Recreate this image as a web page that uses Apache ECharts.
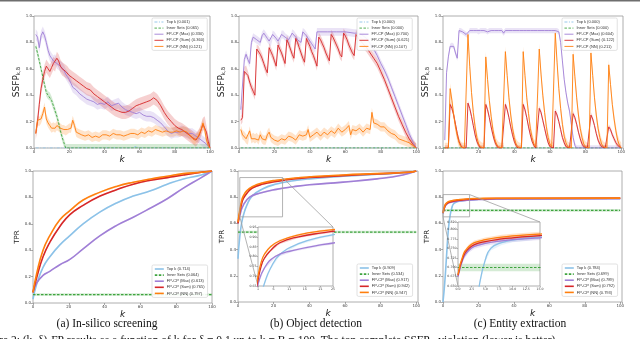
<!DOCTYPE html>
<html><head><meta charset="utf-8">
<script src="https://cdn.jsdelivr.net/npm/echarts@6/dist/echarts.min.js"></script>
<style>html,body{margin:0;padding:0;background:#fff}#c{width:640px;height:339px}</style>
</head><body><div id="c"></div>
<script>
// ---------- tick labels ----------
const mainXTicks = [0, 20, 40, 60, 80, 100];
const mainYTicks = [0, 0.2, 0.4, 0.6, 0.8, 1.0];

// ---------- legend labels ----------
const legendTopA = ['Top k (0.001)', 'Inner Sets (0.065)', 'FP-CP (Max) (0.330)', 'FP-CP (Sum) (0.360)', 'FP-CP (NN) (0.121)'];
const legendTopB = ['Top k (0.000)', 'Inner Sets (0.000)', 'FP-CP (Max) (0.700)', 'FP-CP (Sum) (0.621)', 'FP-CP (NN) (0.107)'];
const legendTopC = ['Top k (0.000) ', 'Inner Sets (0.000) ', 'FP-CP (Max) (0.604)', 'FP-CP (Sum) (0.122)', 'FP-CP (NN) (0.211)'];
const legendBotA = ['Top k (0.714)', 'Inner Sets (0.064)', 'FP-CP (Max) (0.613)', 'FP-CP (Sum) (0.765)', 'FP-CP (NN) (0.797)'];
const legendBotB = ['Top k (0.909)', 'Inner Sets (0.534)', 'FP-CP (Max) (0.917)', 'FP-CP (Sum) (0.942)', 'FP-CP (NN) (0.947)'];
const legendBotC = ['Top k (0.784)', 'Inner Sets (0.699)', 'FP-CP (Max) (0.789)', 'FP-CP (Sum) (0.792)', 'FP-CP (NN) (0.793)'];
const captions = ['(a) In-silico screening', '(b) Object detection', '(c) Entity extraction'];

// ---------- (a) top: SSFP, in-silico screening ----------
const topA_topk = [[1,0],[56,0],[58,0.012],[60,0],[100,0]];
const topA_inner = [[1,0.77],[2,0.72],[3,0.66],[4,0.60],[5,0.54],[6,0.48],[7,0.42],[8,0.40],[9,0.39],[10,0.36],[11,0.32],[12,0.28],[13,0.24],[14,0.19],[15,0.13],[16,0.08],[17,0.04],[18,0],[100,0]];
const topA_max = [[1,0.86],[2,0.84],[3,0.76],[4,0.85],[5,0.88],[6,0.85],[7,0.80],[8,0.74],[9,0.70],[10,0.68],[11,0.66],[12,0.67],[13,0.64],[14,0.63],[15,0.62],[16,0.61],[17,0.59],[18,0.56],[19,0.54],[20,0.52],[21,0.49],[22,0.46],[23,0.45],[24,0.44],[26,0.41],[28,0.39],[30,0.37],[32,0.36],[34,0.35],[36,0.33],[38,0.34],[40,0.33],[42,0.35],[44,0.32],[46,0.33],[48,0.34],[50,0.31],[52,0.29],[54,0.28],[56,0.27],[58,0.26],[60,0.27],[62,0.25],[64,0.24],[66,0.24],[68,0.23],[70,0.21],[72,0.19],[74,0.16],[76,0.13],[78,0.11],[80,0.12],[82,0.12],[84,0.13],[86,0.12],[88,0.11],[90,0.11],[92,0.09],[94,0.07],[96,0.05],[98,0.03],[100,0]];
const topA_sum = [[1,0.11],[2,0.20],[3,0.33],[4,0.45],[5,0.52],[6,0.58],[7,0.62],[8,0.60],[9,0.58],[10,0.61],[11,0.64],[12,0.63],[13,0.68],[14,0.66],[15,0.62],[16,0.60],[17,0.59],[18,0.58],[19,0.57],[20,0.55],[22,0.53],[24,0.51],[26,0.49],[28,0.47],[30,0.45],[32,0.44],[34,0.41],[36,0.39],[38,0.37],[40,0.35],[42,0.33],[44,0.31],[46,0.29],[48,0.28],[50,0.27],[52,0.27],[54,0.28],[56,0.30],[58,0.32],[60,0.33],[62,0.34],[64,0.35],[66,0.36],[68,0.38],[70,0.36],[72,0.32],[74,0.27],[76,0.23],[78,0.20],[80,0.17],[82,0.15],[84,0.14],[86,0.12],[88,0.10],[90,0.08],[92,0.06],[94,0.10],[96,0.18],[97,0.19],[98,0.12],[99,0.05],[100,0]];
const topA_nn = [[1,0.11],[2,0.21],[3,0.20],[4,0.22],[5,0.26],[6,0.31],[7,0.22],[8,0.19],[9,0.17],[10,0.15],[11,0.16],[12,0.15],[13,0.17],[14,0.16],[15,0.15],[16,0.14],[17,0.14],[18,0.13],[19,0.14],[20,0.15],[21,0.15],[22,0.21],[23,0.17],[24,0.12],[25,0.11],[27,0.10],[29,0.09],[31,0.10],[33,0.08],[35,0.09],[37,0.08],[39,0.10],[41,0.10],[43,0.09],[45,0.11],[47,0.10],[49,0.10],[51,0.09],[53,0.10],[55,0.11],[57,0.11],[59,0.10],[61,0.12],[63,0.11],[65,0.13],[67,0.12],[69,0.14],[71,0.13],[73,0.12],[75,0.13],[77,0.12],[79,0.12],[81,0.13],[83,0.12],[85,0.13],[87,0.12],[89,0.09],[91,0.06],[93,0.08],[95,0.14],[96,0.19],[97,0.14],[98,0.06],[99,0.02],[100,0]];

// ---------- (b) top: SSFP, object detection ----------
const topB_zero = [[1,0],[100,0]];
const topB_max = [[1,0.29],[2,0.28],[3,0.67],[4,0.71],[5,0.67],[6,0.64],[7,0.80],[8,0.84],[9,0.83],[10,0.82],[11,0.81],[12,0.80],[13,0.85],[14,0.87],[15,0.85],[16,0.83],[17,0.81],[18,0.80],[19,0.86],[20,0.85],[21,0.83],[22,0.81],[23,0.80],[24,0.86],[25,0.86],[26,0.84],[27,0.83],[28,0.82],[29,0.81],[30,0.87],[31,0.86],[32,0.84],[33,0.82],[34,0.81],[35,0.80],[36,0.88],[37,0.87],[38,0.85],[39,0.83],[40,0.81],[41,0.79],[42,0.77],[43,0.75],[44,0.88],[45,0.88],[50,0.88],[55,0.88],[60,0.88],[65,0.87],[68,0.87],[70,0.85],[72,0.83],[74,0.79],[76,0.75],[78,0.70],[80,0.64],[82,0.59],[84,0.53],[86,0.46],[88,0.39],[90,0.32],[92,0.25],[94,0.18],[96,0.11],[98,0.05],[100,0]];
const topB_sum = [[1,0.21],[2,0.23],[3,0.58],[4,0.59],[5,0.55],[6,0.50],[7,0.46],[8,0.43],[9,0.40],[10,0.75],[11,0.74],[12,0.71],[13,0.68],[14,0.64],[15,0.60],[16,0.57],[17,0.76],[18,0.73],[19,0.70],[20,0.66],[21,0.62],[22,0.78],[23,0.75],[24,0.72],[25,0.68],[26,0.64],[27,0.82],[28,0.79],[29,0.75],[30,0.71],[31,0.68],[32,0.83],[33,0.80],[34,0.76],[35,0.72],[36,0.68],[37,0.65],[38,0.83],[39,0.80],[40,0.77],[41,0.73],[42,0.70],[43,0.66],[44,0.62],[45,0.84],[46,0.82],[47,0.79],[48,0.76],[49,0.72],[50,0.69],[51,0.66],[52,0.86],[53,0.84],[54,0.81],[55,0.78],[56,0.75],[57,0.71],[58,0.69],[59,0.87],[60,0.85],[61,0.82],[62,0.78],[63,0.75],[64,0.72],[65,0.70],[66,0.86],[67,0.84],[68,0.82],[70,0.79],[72,0.76],[74,0.72],[76,0.68],[78,0.64],[80,0.58],[82,0.52],[84,0.45],[86,0.38],[88,0.31],[90,0.24],[92,0.18],[94,0.12],[96,0.07],[98,0.03],[100,0]];
const topB_nn = [[1,0.14],[2,0.10],[3,0.09],[4,0.07],[5,0.06],[6,0.13],[7,0.07],[8,0.08],[9,0.07],[10,0.08],[11,0.06],[12,0.10],[13,0.07],[14,0.06],[15,0.06],[16,0.10],[17,0.12],[18,0.08],[19,0.07],[20,0.06],[22,0.05],[24,0.07],[26,0.06],[28,0.09],[30,0.08],[32,0.06],[34,0.10],[36,0.09],[38,0.10],[39,0.14],[40,0.08],[42,0.10],[44,0.12],[46,0.09],[48,0.12],[50,0.10],[52,0.13],[54,0.11],[56,0.15],[58,0.12],[60,0.14],[62,0.17],[63,0.10],[64,0.14],[66,0.13],[68,0.15],[70,0.12],[72,0.15],[74,0.14],[75,0.27],[76,0.19],[78,0.18],[80,0.16],[82,0.16],[84,0.13],[86,0.11],[88,0.10],[90,0.07],[92,0.06],[94,0.05],[96,0.04],[98,0.02],[100,0]];

// ---------- (c) top: SSFP, entity extraction (values for k = 1..100) ----------
const topC_zero = [[0,0],[100,0]];
const topC_max = [0.06,0.57,0.69,0.77,0.78,0.77,0.72,0.68,0.89,0.89,0.88,0.87,0.86,0.85,0.89,0.89,0.89,0.89,0.89,0.88,0.89,0.89,0.89,0.89,0.88,0.89,0.89,0.89,0.89,0.89,0.89,0.89,0.89,0.87,0.89,0.89,0.89,0.89,0.89,0.89,0.89,0.89,0.89,0.89,0.89,0.89,0.89,0.89,0.89,0.89,0.89,0.89,0.89,0.89,0.89,0.89,0.89,0.89,0.89,0.89,0.89,0.89,0.89,0.89,0.88,0.80,0.66,0.52,0.42,0.34,0.28,0.18,0.08,0.02,0,0,0,0,0,0,0,0,0,0,0,0,0,0,0,0,0,0,0,0,0,0,0,0,0,0];
const topC_sum = [0,0,0,0.33,0.30,0.25,0.18,0.11,0.05,0.02,0,0,0,0.34,0.30,0.24,0.17,0.10,0.05,0.02,0,0,0,0.33,0.29,0.23,0.16,0.10,0.05,0.02,0,0,0,0,0.33,0.29,0.23,0.16,0.10,0.05,0.02,0,0,0,0.33,0.29,0.23,0.16,0.10,0.05,0.02,0,0,0.30,0.27,0.21,0.15,0.09,0.04,0.01,0,0,0.28,0.25,0.20,0.14,0.08,0.04,0.01,0,0,0,0.26,0.23,0.18,0.12,0.07,0.03,0.01,0,0,0,0.25,0.22,0.17,0.11,0.06,0.03,0.01,0,0,0,0.16,0.14,0.10,0.07,0.04,0.02,0.01,0];
const topC_nn = [0,0,0,0.45,0.36,0.25,0.16,0.09,0.04,0.01,0,0,0,0.86,0.62,0.42,0.27,0.16,0.08,0.03,0.01,0,0,0.69,0.52,0.36,0.24,0.14,0.07,0.03,0.01,0,0,0,0.73,0.55,0.38,0.25,0.15,0.08,0.03,0.01,0,0,0.73,0.55,0.38,0.26,0.15,0.08,0.03,0.01,0,0.75,0.56,0.40,0.27,0.16,0.08,0.03,0.01,0,0.87,0.65,0.45,0.30,0.18,0.09,0.04,0.01,0,0,0.71,0.54,0.38,0.25,0.15,0.08,0.03,0.01,0,0,0.72,0.55,0.38,0.25,0.15,0.08,0.03,0.01,0,0,0.63,0.48,0.33,0.22,0.13,0.06,0.02,0];

// ---------- (a) bottom: TPR ----------
const botA_topk = [[0,0.03],[2,0.14],[5.6,0.27],[9.4,0.35],[15,0.44],[20.6,0.51],[28,0.60],[37.5,0.69],[47,0.76],[56,0.81],[65.7,0.85],[75,0.90],[84,0.94],[94,0.97],[100,1.0]];
const botA_inner = [[0,0.064],[100,0.064]];
const botA_max = [[0,0.08],[2,0.15],[5.6,0.21],[9.4,0.24],[15,0.29],[20.6,0.33],[28,0.41],[37.5,0.51],[47,0.59],[56,0.65],[65.7,0.72],[75,0.79],[84,0.87],[94,0.95],[100,1.0]];
const botA_sum = [[0,0.08],[2,0.19],[5.6,0.35],[9.4,0.46],[15,0.58],[20.6,0.67],[28,0.74],[37.5,0.81],[47,0.86],[56,0.90],[65.7,0.93],[75,0.95],[84,0.97],[94,0.99],[100,1.0]];
const botA_nn = [[0,0.08],[2,0.22],[5.6,0.40],[9.4,0.51],[15,0.63],[20.6,0.70],[28,0.78],[37.5,0.84],[47,0.885],[56,0.915],[65.7,0.94],[75,0.96],[84,0.98],[94,0.99],[100,1.0]];

// ---------- (b) bottom: TPR ----------
const botB_topk = [[0,0.33],[1,0.50],[2,0.60],[3,0.66],[5,0.74],[8,0.81],[14,0.865],[21.5,0.90],[31,0.925],[40,0.94],[59,0.96],[78,0.975],[96,0.99],[100,1.0]];
const botB_inner = [[0,0.534],[100,0.534]];
const botB_max = [[0,0.60],[1,0.66],[3,0.74],[6.5,0.80],[12,0.83],[21.5,0.86],[31,0.88],[40,0.895],[59,0.915],[78,0.94],[92.5,0.97],[100,1.0]];
const botB_sum = [[0,0.60],[1,0.68],[2,0.75],[3,0.79],[5,0.83],[8,0.87],[14,0.90],[21.5,0.92],[31,0.94],[40,0.95],[59,0.965],[78,0.978],[96,0.99],[100,1.0]];
const botB_nn = [[0,0.61],[1,0.70],[2,0.77],[3,0.81],[5,0.85],[8,0.88],[14,0.91],[21.5,0.93],[31,0.945],[40,0.955],[59,0.97],[78,0.98],[96,0.99],[100,1.0]];

// ---------- (c) bottom: TPR ----------
const botC_topk = [[0,0],[1,0.15],[2,0.35],[3,0.55],[4,0.66],[5,0.72],[6,0.75],[8,0.765],[10,0.772],[15,0.78],[20,0.784],[30,0.787],[100,0.79]];
const botC_inner = [[0,0.699],[100,0.699]];
const botC_max = [[0,0.675],[1,0.725],[2,0.745],[3,0.755],[5,0.763],[8,0.77],[10,0.773],[15,0.778],[20,0.782],[30,0.786],[100,0.789]];
const botC_sum = [[0,0.678],[1,0.73],[2,0.75],[3,0.76],[5,0.768],[8,0.775],[10,0.778],[15,0.784],[20,0.787],[30,0.79],[100,0.792]];
const botC_nn = [[0,0.68],[1,0.735],[2,0.755],[3,0.765],[5,0.773],[8,0.78],[10,0.783],[15,0.788],[20,0.79],[30,0.792],[100,0.793]];

// ---------- insets ----------
const insetB_x = [1, 25, 5];     // min, max, interval
const insetB_y = [0.65, 0.95, 0.05];
const insetC_x = [0, 15, 2.5];
const insetC_y = [0.65, 0.82, 0.025];

// ---------- styles ----------
const C = {topk:'#8cc2e8', inner:'#3fa43f', max:'#a07fd6', sum:'#d62728', nn:'#ff7f0e'};
const grids = [
  {left:34, top:16, width:176, height:132},
  {left:239, top:16, width:179, height:132},
  {left:443, top:16, width:180, height:132},
  {left:33, top:171, width:179, height:132},
  {left:238, top:171, width:180, height:131},
  {left:443, top:171, width:179, height:131},
  {left:258, top:227, width:75, height:59},
  {left:458, top:222, width:82, height:64}
];
grids.forEach(g => { g.show = true; g.borderColor = '#9a9a9a'; g.borderWidth = 0.8; g.backgroundColor = '#fff'; });
grids[6].zlevel = 1; grids[7].zlevel = 1;

const tick = {show:true, length:2, lineStyle:{color:'#777', width:0.6}};
const lab = {fontSize:4, color:'#444', fontFamily:'DejaVu Sans'};
const xAxes = [], yAxes = [];
for (let i = 0; i < 6; i++) {
  const top = i < 3;
  xAxes.push({gridIndex:i, type:'value', min:0, max: i===0||i===3 ? 100 : 101, interval:20,
    axisLine:{show:false}, axisTick:tick, splitLine:{show:false},
    axisLabel:Object.assign({margin:2, showMaxLabel:true, formatter:v => mainXTicks.indexOf(v) >= 0 ? String(v) : ''}, lab),
    name:'k', nameLocation:'middle', nameGap:7,
    nameTextStyle:{fontStyle:'italic', fontSize:9, color:'#222', fontFamily:'DejaVu Sans'}});
  yAxes.push({gridIndex:i, type:'value', min:0, max:1, interval:0.2,
    axisLine:{show:false}, axisTick:tick, splitLine:{show:false},
    axisLabel:Object.assign({margin:2, formatter:v => v.toFixed(1)}, lab),
    name: top ? '{a|SSFP}{b|k,δ}' : 'TPR', nameLocation:'middle', nameGap:9,
    nameTextStyle: top ? {rich:{a:{fontSize:9, color:'#222', fontFamily:'DejaVu Sans'}, b:{fontSize:5.5, color:'#222', fontFamily:'DejaVu Sans', verticalAlign:'bottom', padding:[4,0,0,0]}}} : {fontSize:7, color:'#222', fontFamily:'DejaVu Sans'}});
}
const insetSpecs = [[6, insetB_x, insetB_y, v => v.toFixed(2), v => String(v)], [7, insetC_x, insetC_y, v => v.toFixed(3), v => v.toFixed(1)]];
insetSpecs.forEach(([gi, xs, ys, fy, fx]) => {
  xAxes.push({gridIndex:gi, zlevel:1, type:'value', min:xs[0], max:xs[1], interval:xs[2],
    axisLine:{show:false}, axisTick:{show:true, length:1.5, lineStyle:{color:'#777', width:0.5}}, splitLine:{show:false},
    axisLabel:Object.assign({margin:1.5, formatter:fx}, lab, {fontSize:3.2})});
  yAxes.push({gridIndex:gi, zlevel:1, type:'value', min:ys[0], max:ys[1], interval:ys[2],
    axisLine:{show:false}, axisTick:{show:true, length:1.5, lineStyle:{color:'#777', width:0.5}}, splitLine:{show:false},
    axisLabel:Object.assign({margin:1.5, formatter:fy}, lab, {fontSize:3.2})});
});

const series = [];
function rgba(hex, a) { const n = parseInt(hex.slice(1), 16); return `rgba(${n>>16},${(n>>8)&255},${n&255},${a})`; }
function addBand(gi, data, half, color, zl) {
  const lo = data.map(p => [p[0], Math.max(0, p[1] - half)]);
  const hi = data.map(p => [p[0], p[1] + half]);
  series.push({type:'custom', xAxisIndex:gi, yAxisIndex:gi, zlevel:zl, z:1, silent:true, clip:true,
    data:data, encode:{x:0, y:1},
    renderItem:(params, api) => {
      if (params.dataIndex !== 0) return null;
      const pts = hi.map(p => api.coord(p)).concat(lo.slice().reverse().map(p => api.coord(p)));
      return {type:'polygon', shape:{points:pts}, style:{fill:rgba(color, 0.22)}};
    }});
}
function addLine(gi, name, data, color, w, dash, zl, smooth, half) {
  if (half) addBand(gi, data, half, color, zl);
  series.push({type:'line', name:name, xAxisIndex:gi, yAxisIndex:gi, data:data, symbol:'none', smooth:smooth, zlevel:zl, z:3,
    lineStyle:{color:color, width:w, type:dash || 'solid'}, itemStyle:{color:color}});
}
const idx = arr => arr.map((v, i) => [i + 1, v]);

// top a
addLine(0, legendTopA[0], topA_topk, C.topk, 0.9, [3,1.5,1,1.5], 0, false);
addLine(0, legendTopA[1], topA_inner, C.inner, 0.9, [2.5,1.5], 0, false, 0.03);
addLine(0, legendTopA[2], topA_max, C.max, 0.9, null, 0, false, 0.04);
addLine(0, legendTopA[3], topA_sum, C.sum, 0.9, null, 0, false, 0.05);
addLine(0, legendTopA[4], topA_nn, C.nn, 0.9, null, 0, false, 0.035);
// top b
addLine(1, legendTopB[0], topB_zero, C.topk, 0.9, [3,1.5,1,1.5], 0, false);
addLine(1, legendTopB[1], topB_zero, C.inner, 0.9, [2.5,1.5], 0, false);
addLine(1, legendTopB[2], topB_max, C.max, 0.9, null, 0, false, 0.03);
addLine(1, legendTopB[3], topB_sum, C.sum, 0.9, null, 0, false, 0.035);
addLine(1, legendTopB[4], topB_nn, C.nn, 0.9, null, 0, false, 0.035);
// top c
addLine(2, legendTopC[0], topC_zero, C.topk, 0.9, [3,1.5,1,1.5], 0, false);
addLine(2, legendTopC[1], topC_zero, C.inner, 0.9, [2.5,1.5], 0, false);
addLine(2, legendTopC[2], idx(topC_max), C.max, 0.9, null, 0, false, 0.02);
addLine(2, legendTopC[3], idx(topC_sum), C.sum, 0.9, null, 0, false, 0.02);
addLine(2, legendTopC[4], idx(topC_nn), C.nn, 0.9, null, 0, false, 0.04);
// bottom rows (main + insets)
const bots = [
  [3, legendBotA, botA_topk, botA_inner, botA_max, botA_sum, botA_nn],
  [4, legendBotB, botB_topk, botB_inner, botB_max, botB_sum, botB_nn],
  [5, legendBotC, botC_topk, botC_inner, botC_max, botC_sum, botC_nn]
];
bots.forEach(([gi, lg, tk, inn, mx, sm, nn]) => {
  const targets = [[gi, 0, 1.6]];
  if (gi === 4) targets.push([6, 1, 1.3]);
  if (gi === 5) targets.push([7, 1, 1.3]);
  targets.forEach(([g, zl, w], j) => {
    const nm = n => j === 0 ? n : n + ' ';
    addLine(g, nm(lg[0]), tk, C.topk, w, null, zl, true, 0.006);
    addLine(g, nm(lg[1]), inn, C.inner, w * 0.8, [2.5,1.5], zl, false, 0.01);
    addLine(g, nm(lg[2]), mx, C.max, w, null, zl, true, 0.006);
    addLine(g, nm(lg[3]), sm, C.sum, w, null, zl, true, 0.006);
    addLine(g, nm(lg[4]), nn, C.nn, w, null, zl, true, 0.006);
  });
});

const legendPos = [[152,18],[357,18],[562,18],[152,265],[357,264],[562,264]];
const legendData = [legendTopA, legendTopB, legendTopC, legendBotA, legendBotB, legendBotC];
const legends = legendData.map((d, i) => ({
  data:d, orient:'vertical', left:legendPos[i][0], top:legendPos[i][1], itemWidth:9, itemHeight:4.5, itemGap:2.1,
  padding:[2,3,2,2], backgroundColor:'rgba(255,255,255,0.9)', borderColor:'#cfcfcf', borderWidth:0.6, borderRadius:1.5,
  textStyle:{fontSize:4, color:'#333', fontFamily:'Liberation Sans', padding:[0,0,0,-2]}, selectedMode:false,
  itemStyle:{opacity:0, borderWidth:0},
  lineStyle:{width: i < 3 ? 0.9 : 1.6}, zlevel:1
}));

const capX = [107, 316, 520];
const graphic = [{type:'rect', shape:{x:0, y:0, width:640, height:1.6}, style:{fill:'#6e6e6e'}, silent:true}];
captions.forEach((t, i) => graphic.push({type:'text', x:capX[i], y:324, style:{text:t, font:'11.5px "Liberation Serif"', fill:'#111', textAlign:'center', textVerticalAlign:'middle'}}));
graphic.push({type:'text', x:-22, y:335, style:{text:'Figure 2: (k, δ)-FP results as a function of k for δ = 0.1 up to k = B = 100. The top complete SSFP   violation (lower is better)', font:'11.5px "Liberation Serif"', fill:'#111', textVerticalAlign:'top'}});

const chart = echarts.init(document.getElementById('c'), null, {renderer:'canvas'});
chart.setOption({animation:false, backgroundColor:'#fff', grid:grids, xAxis:xAxes, yAxis:yAxes, legend:legends, series:series, graphic:graphic});

// zoom rectangles and connector lines (computed through the axes)
function insetDecor(mainGi, insetGi, xs, ys) {
  const a = chart.convertToPixel({gridIndex:mainGi}, [xs[0], ys[1]]);
  const b = chart.convertToPixel({gridIndex:mainGi}, [xs[1], ys[0]]);
  const ia = chart.convertToPixel({gridIndex:insetGi}, [xs[0], ys[1]]);
  const ib = chart.convertToPixel({gridIndex:insetGi}, [xs[1], ys[0]]);
  const st = {stroke:'#a0a0a0', lineWidth:0.8, fill:null};
  return [
    {type:'rect', shape:{x:a[0], y:a[1], width:b[0]-a[0], height:b[1]-a[1]}, style:st, silent:true, z:50},
    {type:'line', shape:{x1:b[0], y1:a[1], x2:ib[0], y2:ia[1]}, style:st, silent:true, z:50},
    {type:'line', shape:{x1:a[0], y1:b[1], x2:ia[0], y2:ib[1]}, style:st, silent:true, z:50}
  ];
}
chart.setOption({graphic: graphic.concat(insetDecor(4, 6, insetB_x, insetB_y), insetDecor(5, 7, insetC_x, insetC_y))});
</script></body></html>
